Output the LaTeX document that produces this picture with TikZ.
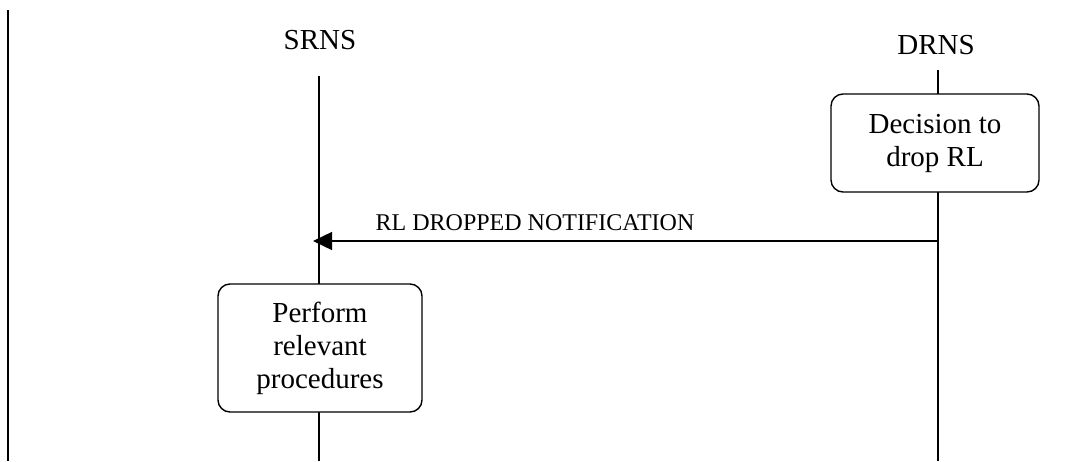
\documentclass[tikz,border=0pt]{standalone}
\usepackage{fontspec}
\setmainfont{Liberation Serif}
\usetikzlibrary{arrows.meta}
\begin{document}
\begin{tikzpicture}[x=1pt,y=-1pt,
  line/.style={line width=1.4pt},
  proc/.style={draw,line width=1.4pt,rounded corners=12pt,fill=white,align=center,
     font=\fontsize{29}{33}\selectfont,inner sep=0pt},
  ent/.style={font=\fontsize{29}{33}\selectfont,inner sep=0pt},
  msg/.style={font=\fontsize{24}{28}\selectfont,inner sep=0pt}]
\useasboundingbox (0,0) rectangle (1086,461);
% left border
\coordinate (bt) at (8,10);
\coordinate (bb) at (8,461);
\draw[line] (bt) -- (bb);
% entities
\node[ent] (srns) at (320,40) {SRNS};
\node[ent] (drns) at (936,45) {DRNS};
\coordinate (s1) at (319,76);
\coordinate (s2) at (319,461);
\coordinate (d1) at (938,70);
\coordinate (d2) at (938,461);
\draw[line] (s1) -- (s2);
\draw[line] (d1) -- (d2);
% boxes
\node[proc,minimum width=208pt,minimum height=98pt] (dec) at (935,143) {Decision to\\drop RL};
\node[proc,minimum width=204pt,minimum height=128pt] (perf) at (320,348) {Perform\\relevant\\procedures};
% message
\coordinate (mstart) at (938,241);
\coordinate (mend) at (313,241);
\draw[line,-{Triangle[length=19pt,width=18pt]}] (mstart) -- (mend);
\node[msg] (lbl) at (535,223) {RL DROPPED NOTIFICATION};
\end{tikzpicture}
\end{document}
